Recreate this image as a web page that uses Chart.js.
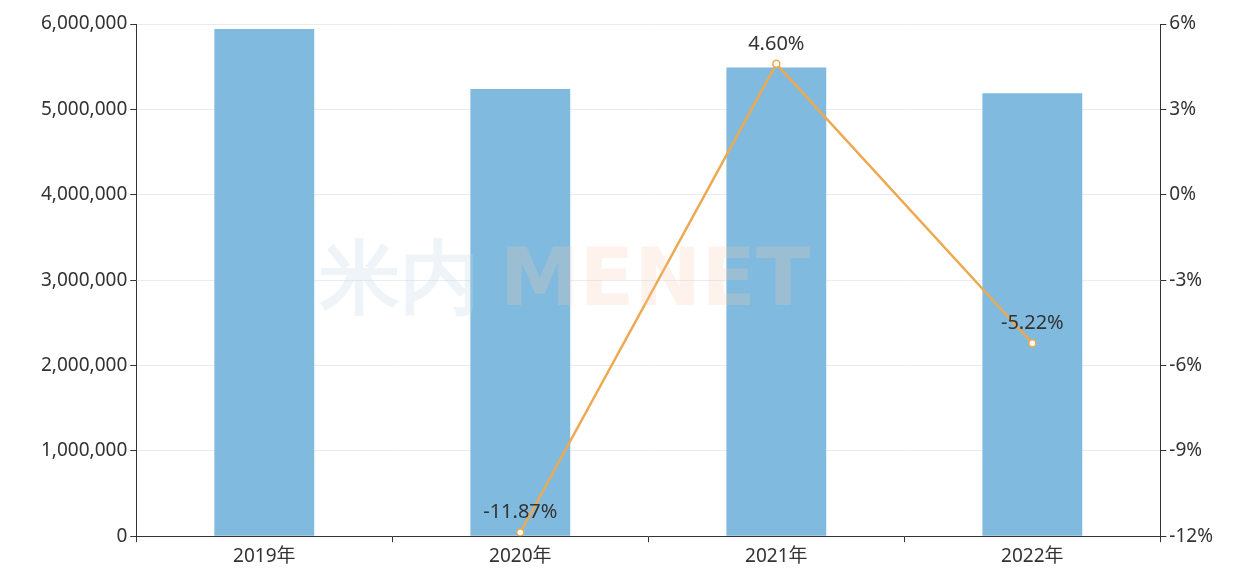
<!DOCTYPE html>
<html><head><meta charset="utf-8">
<script src="https://cdn.jsdelivr.net/npm/chart.js@4"></script>
<style>html,body{margin:0;padding:0;background:#fff}#w{width:1244px;height:586px}</style>
</head><body><div id="w"><canvas id="c"></canvas></div>
<script>
const categories=["2019年","2020年","2021年","2022年"];
const sales=[5940000,5240000,5490000,5190000];
const growth=[null,-11.87,4.60,-5.22];
const growthLabels=["","-11.87%","4.60%","-5.22%"];
const leftTicks=[0,1000000,2000000,3000000,4000000,5000000,6000000];
const rightTicks=[-12,-9,-6,-3,0,3,6];

const labelPlugin={id:'lbl',afterDatasetsDraw(ch){
  const ctx=ch.ctx;
  ctx.save();ctx.font='bold 80px "DejaVu Sans", sans-serif';ctx.textBaseline='middle';ctx.textAlign='left';
  ctx.fillStyle='rgba(190,210,230,0.25)';ctx.fillText('米内',320,284);
  ctx.fillStyle='rgba(250,200,170,0.22)';ctx.fillText('MENET',500,284);ctx.restore();
  const meta=ch.getDatasetMeta(1);
  ctx.save();ctx.font='20px "Noto Sans", sans-serif';ctx.fillStyle='#333';ctx.textAlign='center';ctx.textBaseline='bottom';
  meta.data.forEach((p,i)=>{if(growth[i]!==null)ctx.fillText(growthLabels[i],p.x,p.y-10);});
  ctx.restore();
}};
new Chart(document.getElementById('c'),{
  data:{labels:categories,datasets:[
    {type:'bar',data:sales,backgroundColor:'#80bbdf',barPercentage:0.78,categoryPercentage:0.5,yAxisID:'y',order:2},
    {type:'line',data:growth,borderColor:'#eea84f',borderWidth:2.5,pointRadius:3.5,pointBackgroundColor:'#fff',pointBorderColor:'#eea84f',pointBorderWidth:1.5,yAxisID:'y1',order:1,spanGaps:false}
  ]},
  options:{responsive:true,maintainAspectRatio:false,animation:false,
    layout:{padding:{top:24,right:28,left:38,bottom:15}},
    plugins:{legend:{display:false},tooltip:{enabled:false}},
    scales:{
      x:{offset:true,grid:{display:true,drawOnChartArea:false,offset:true,color:'#333',tickLength:6},border:{color:'#333'},
         ticks:{color:'#333',font:{size:19,family:'"Noto Sans","Noto Sans CJK SC",sans-serif'}}},
      y:{position:'left',min:0,max:6000000,afterBuildTicks:a=>{a.ticks=leftTicks.map(v=>({value:v}));},
         grid:{color:'#e8ecf0',tickLength:6,tickColor:'#333'},border:{color:'#333'},
         ticks:{color:'#333',font:{size:19,family:'"Noto Sans",sans-serif'},callback:v=>v.toLocaleString('en-US')}},
      y1:{position:'right',min:-12,max:6,afterBuildTicks:a=>{a.ticks=rightTicks.map(v=>({value:v}));},
         grid:{drawOnChartArea:false,tickLength:6,color:'#333'},border:{color:'#333'},
         ticks:{color:'#333',font:{size:19,family:'"Noto Sans",sans-serif'},callback:v=>v+'%'}}
    }},
  plugins:[labelPlugin]
});
</script></body></html>
